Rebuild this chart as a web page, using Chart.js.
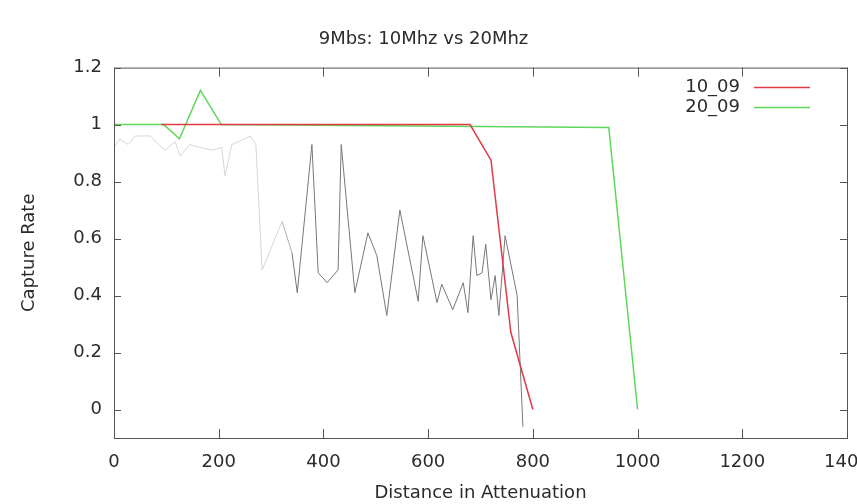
<!DOCTYPE html>
<html>
<head>
<meta charset="utf-8">
<script src="https://cdn.jsdelivr.net/npm/chart.js@4/dist/chart.umd.min.js"></script>
<style>
  html, body { margin: 0; padding: 0; background: #fff; }
</style>
</head>
<body>
<canvas id="chart" width="857" height="504"></canvas>
<script>
// data
const redX = [90, 680, 720, 758, 800];
const redY = [1, 1, 0.875, 0.27, 0];

const greenX = [0, 95, 125, 165, 205, 945, 1000];
const greenY = [1, 1, 0.95, 1.12, 1.0, 0.99, 0];

// unlabelled grey trace
const greyX = [0, 11, 27, 40, 69, 97, 117, 126, 145, 164, 189, 206, 212, 225, 250, 260, 271, 283,
  321, 340, 350, 378, 390, 407, 428, 434, 460, 485, 502, 521, 546, 581, 590, 617, 626, 647,
  667, 676, 686, 693, 703, 710, 720, 728, 735, 747, 770, 781];
const greyY = [0.92, 0.95, 0.93, 0.96, 0.96, 0.91, 0.94, 0.89, 0.93, 0.92, 0.91, 0.92, 0.82, 0.93, 0.95, 0.96, 0.93, 0.49,
  0.66, 0.55, 0.41, 0.93, 0.48, 0.445, 0.49, 0.93, 0.41, 0.62, 0.54, 0.33, 0.70, 0.38, 0.61, 0.375, 0.44, 0.35,
  0.445, 0.34, 0.61, 0.47, 0.48, 0.58, 0.385, 0.47, 0.33, 0.61, 0.40, -0.06];

const xTicks = [0, 200, 400, 600, 800, 1000, 1200, 1400];
const yTicks = [0, 0.2, 0.4, 0.6, 0.8, 1, 1.2];

const FONT = "'DejaVu Sans', sans-serif";
const TEXT = "#2b2b2b";

function pts(xs, ys) {
  return xs.map((x, i) => ({ x: x, y: ys[i] }));
}

// gnuplot style frame, inward ticks and legend
const framePlugin = {
  id: "frame",
  afterDatasetsDraw(chart) {
    const { ctx, chartArea: a, scales } = chart;
    const xs = scales.x, ys = scales.y;
    ctx.save();
    ctx.strokeStyle = "#555";
    ctx.lineWidth = 1;
    ctx.strokeRect(a.left + 0.5, a.top + 0.5, a.right - a.left, a.bottom - a.top);
    ctx.beginPath();
    xs.ticks.forEach((t) => {
      const px = Math.round(xs.getPixelForValue(t.value)) + 0.5;
      ctx.moveTo(px, a.bottom); ctx.lineTo(px, a.bottom - 9);
      ctx.moveTo(px, a.top); ctx.lineTo(px, a.top + 9);
    });
    ys.ticks.forEach((t) => {
      const py = Math.round(ys.getPixelForValue(t.value)) + 0.5;
      ctx.moveTo(a.left, py); ctx.lineTo(a.left + 7, py);
      ctx.moveTo(a.right, py); ctx.lineTo(a.right - 7, py);
    });
    ctx.stroke();

    // legend, text right aligned then line sample
    ctx.font = "18px " + FONT;
    ctx.textAlign = "right";
    ctx.textBaseline = "middle";
    let row = 0;
    chart.data.datasets.forEach((ds) => {
      if (!ds.label) return;
      const yy = 87 + row * 20;
      ctx.fillStyle = TEXT;
      ctx.fillText(ds.label, 740, yy);
      ctx.strokeStyle = ds.borderColor;
      ctx.lineWidth = 1.5;
      ctx.beginPath();
      ctx.moveTo(754, yy + 0.5);
      ctx.lineTo(810, yy + 0.5);
      ctx.stroke();
      row++;
    });
    ctx.restore();
  }
};

const ctx = document.getElementById("chart").getContext("2d");
new Chart(ctx, {
  type: "line",
  data: {
    datasets: [
      {
        label: "10_09",
        data: pts(redX, redY),
        borderColor: "#e03a44",
        borderWidth: 1.5,
        pointRadius: 0,
        tension: 0
      },
      {
        label: "20_09",
        data: pts(greenX, greenY),
        borderColor: "#5fd85a",
        borderWidth: 1.5,
        pointRadius: 0,
        tension: 0
      },
      {
        label: "",
        data: pts(greyX, greyY),
        borderColor: "#777",
        borderWidth: 1,
        pointRadius: 0,
        tension: 0,
        segment: {
          borderColor: (c) => (c.p0.parsed.x >= 340 ? "#777" : c.p0.parsed.x >= 321 ? "#b0b0b0" : "#d6d6d6")
        }
      }
    ]
  },
  options: {
    responsive: false,
    animation: false,
    layout: { padding: { left: 0, right: 10, top: 0, bottom: 0 } },
    plugins: {
      legend: { display: false },
      tooltip: { enabled: false },
      title: {
        display: true,
        text: "9Mbs: 10Mhz vs 20Mhz",
        color: TEXT,
        font: { family: FONT, size: 18, weight: "normal" },
        padding: { top: 29, bottom: 17 }
      }
    },
    scales: {
      x: {
        type: "linear",
        min: 0,
        max: 1400,
        afterBuildTicks: (s) => { s.ticks = xTicks.map((v) => ({ value: v })); },
        afterFit: (s) => { s.height = 66; s.paddingLeft = 0; s.paddingRight = 0; },
        ticks: {
          padding: 14,
          color: TEXT,
          font: { family: FONT, size: 18 },
          maxRotation: 0,
          autoSkip: false,
          callback: (v) => String(v)
        },
        grid: { drawOnChartArea: false, drawTicks: false },
        border: { display: false },
        title: { display: true, text: "Distance in Attenuation", color: TEXT, font: { family: FONT, size: 18 }, padding: 0 }
      },
      y: {
        type: "linear",
        min: -0.1,
        max: 1.2,
        afterBuildTicks: (s) => { s.ticks = yTicks.map((v) => ({ value: v })); },
        afterFit: (s) => { s.width = 114; },
        ticks: {
          padding: 12,
          color: TEXT,
          font: { family: FONT, size: 18 },
          callback: (v) => String(+Number(v).toFixed(1))
        },
        grid: { drawOnChartArea: false, drawTicks: false },
        border: { display: false },
        title: { display: true, text: "Capture Rate", color: TEXT, font: { family: FONT, size: 18 }, padding: { top: 19, bottom: 0 } }
      }
    }
  },
  plugins: [framePlugin]
});
</script>
</body>
</html>
